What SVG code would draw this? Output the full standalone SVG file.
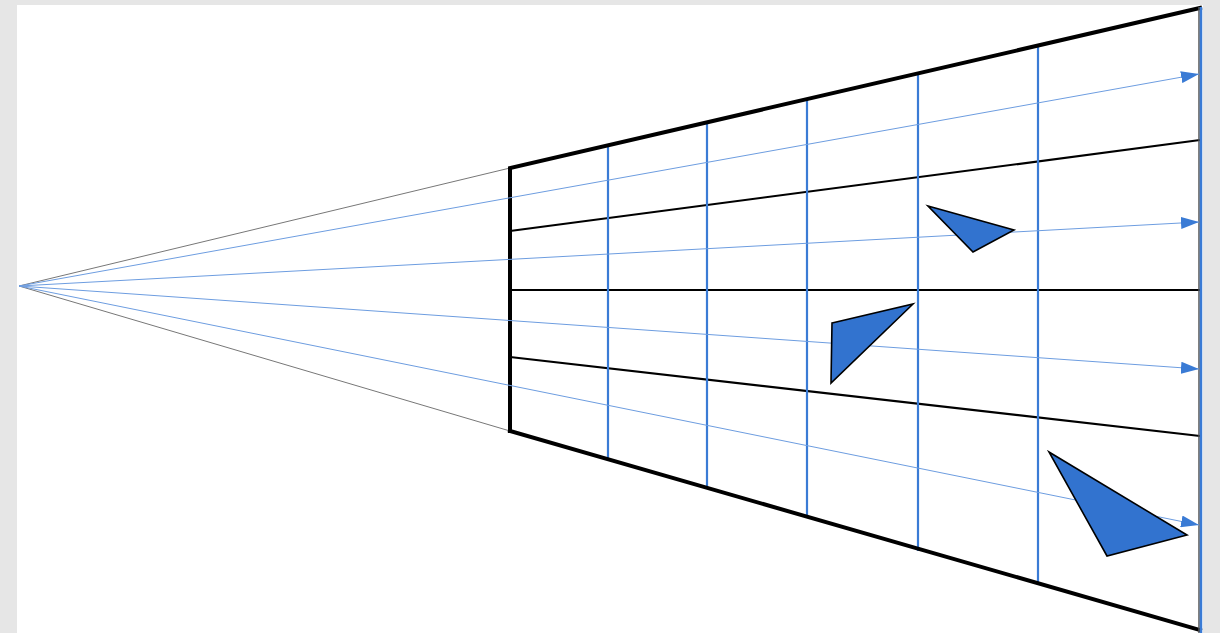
<svg xmlns="http://www.w3.org/2000/svg" width="1220" height="633" viewBox="0 0 1220 633">
<defs>
<style>
.thick{stroke:#000;stroke-width:4;fill:none;stroke-linecap:square}
.div{stroke:#000;stroke-width:2.2;fill:none}
.thin{stroke:#777;stroke-width:1;fill:none}
.grid{stroke:#3a7bd5;stroke-width:2.2;fill:none}
.ray{stroke:#6d9de0;stroke-width:1;fill:none}
.tri{fill:#3273cf;stroke:#000;stroke-width:1.6;stroke-linejoin:miter}
</style>
<marker id="ah" markerWidth="18" markerHeight="12" refX="18" refY="6" orient="auto" markerUnits="userSpaceOnUse">
<path d="M0,0 L18,6 L0,12 Z" fill="#3a7bd5"/>
</marker>
</defs>
<rect x="0" y="0" width="1220" height="633" fill="#e6e6e6"/>
<rect x="17" y="5" width="1186" height="628" fill="#fff"/>
<g id="frustum">
<line class="thin" x1="19" y1="286" x2="510" y2="168"/>
<line class="thin" x1="19" y1="286" x2="510" y2="431"/>
<line class="div" x1="510" y1="231" x2="1200" y2="140"/>
<line class="div" x1="510" y1="290" x2="1200" y2="290"/>
<line class="div" x1="510" y1="357" x2="1200" y2="436"/>
<line class="grid" x1="608" y1="145" x2="608" y2="460"/>
<line class="grid" x1="707" y1="122" x2="707" y2="489"/>
<line class="grid" x1="807" y1="99" x2="807" y2="518"/>
<line class="grid" x1="918" y1="73" x2="918" y2="551"/>
<line class="grid" x1="1038" y1="46" x2="1038" y2="585"/>
<path class="thick" d="M510,431 L510,168 L1200,8"/>
<line class="thick" x1="510" y1="431" x2="1200" y2="630"/>
<line x1="1199" y1="7" x2="1199" y2="633" stroke="#555" stroke-width="1.5"/>
<line x1="1201" y1="7" x2="1201" y2="633" stroke="#3a7bd5" stroke-width="2.5"/>
</g>
<g id="rays">
<line class="ray" x1="19" y1="286" x2="1199" y2="74" marker-end="url(#ah)"/>
<line class="ray" x1="19" y1="286" x2="1199" y2="222" marker-end="url(#ah)"/>
<line class="ray" x1="19" y1="286" x2="1199" y2="369" marker-end="url(#ah)"/>
<line class="ray" x1="19" y1="286" x2="1199" y2="525" marker-end="url(#ah)"/>
</g>
<g id="triangles">
<polygon class="tri" points="928,206 1014,230 973,252"/>
<polygon class="tri" points="832,323 913,304 831,383"/>
<polygon class="tri" points="1049,452 1187,535 1107,556"/>
</g>
</svg>
